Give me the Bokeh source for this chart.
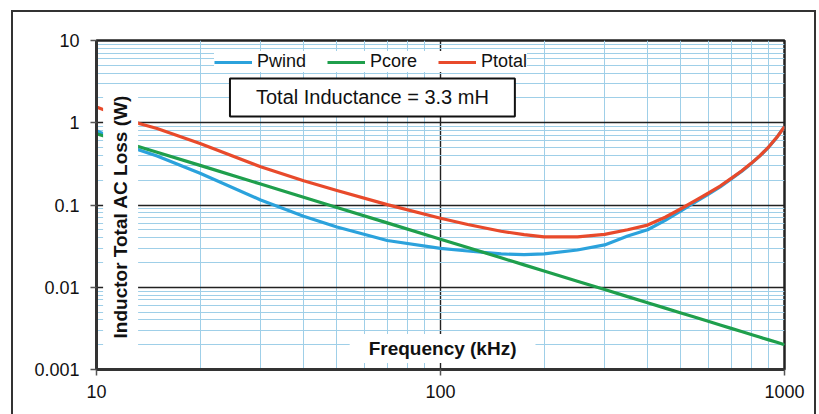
import math
from bokeh.plotting import figure
from bokeh.models import Range1d, FixedTicker, Label, Legend, LegendItem
from bokeh.embed import file_html
from bokeh.resources import INLINE

# ---- data ----
freq_khz = [10, 13.3, 15, 20, 30, 40, 50, 70, 100, 120, 150, 175, 200, 250, 300, 350, 400,
            450, 500, 550, 600, 650, 700, 750, 800, 850, 900, 950, 1000]
p_wind = [0.80, 0.466, 0.394, 0.243, 0.115, 0.073, 0.054, 0.037, 0.0297, 0.0276, 0.0254,
          0.0249, 0.0254, 0.0284, 0.0327, 0.042, 0.050, 0.065, 0.085, 0.108, 0.135, 0.166,
          0.208, 0.256, 0.318, 0.398, 0.507, 0.663, 0.893]
p_core = [0.736, 0.51, 0.438, 0.303, 0.180, 0.124, 0.0933, 0.0606, 0.0384, 0.0304, 0.0228,
          0.0187, 0.0158, 0.0118, 0.00937, 0.00769, 0.00648, 0.00557, 0.00487, 0.00431,
          0.00385, 0.00348, 0.00316, 0.00289, 0.00266, 0.00246, 0.00229, 0.00214, 0.0020]
p_total = [1.55, 0.98, 0.85, 0.56, 0.292, 0.197, 0.150, 0.101, 0.069, 0.058, 0.048, 0.0436,
           0.041, 0.041, 0.044, 0.050, 0.057, 0.071, 0.090, 0.113, 0.139, 0.170, 0.211,
           0.259, 0.321, 0.40, 0.51, 0.665, 0.895]

series_names = ["Pwind", "Pcore", "Ptotal"]
series_colors = ["#2ba2dc", "#1f9f4c", "#e84a2b"]

x_ticks = [10, 100, 1000]
x_tick_labels = ["10", "100", "1000"]
x_minor = [20, 30, 40, 50, 60, 70, 80, 90, 200, 300, 400, 500, 600, 700, 800, 900]
y_ticks = [0.001, 0.01, 0.1, 1, 10]
y_tick_labels = ["0.001", "0.01", "0.1", "1", "10"]
y_minor = [m * d for d in [0.001, 0.01, 0.1, 1] for m in range(2, 10)]

x_title = "Frequency (kHz)"
y_title = "Inductor Total AC Loss (W)"
note = "Total Inductance = 3.3 mH"

FONT = "Liberation Sans"

p = figure(width=819, height=414, x_axis_type="log", y_axis_type="log",
           x_range=Range1d(10, 1000), y_range=Range1d(0.001, 10),
           output_backend="svg", toolbar_location=None,
           min_border_left=96, min_border_right=35, min_border_top=40, min_border_bottom=45,
           background_fill_color="white", border_fill_color="white", border_fill_alpha=0)

# outer picture frame (left, right and top edges) drawn behind the transparent border area
p.styles = {
    "background-color": "white",
    "background-image": "linear-gradient(#333,#333), linear-gradient(#333,#333), linear-gradient(#333,#333)",
    "background-size": "2px 410px, 2px 410px, 805px 2px",
    "background-position": "11px 10px, 814px 10px, 11px 10px",
    "background-repeat": "no-repeat",
}

# axes
xt = FixedTicker(ticks=x_ticks, minor_ticks=x_minor)
yt = FixedTicker(ticks=y_ticks, minor_ticks=y_minor)
p.xaxis.ticker = xt
p.yaxis.ticker = yt
p.xgrid.ticker = xt
p.ygrid.ticker = yt
p.xaxis.major_label_overrides = dict(zip(x_ticks, x_tick_labels))
p.yaxis.major_label_overrides = dict(zip(y_ticks, y_tick_labels))
for ax in (p.xaxis[0], p.yaxis[0]):
    ax.axis_line_color = "#333333"
    ax.axis_line_width = 3
    ax.major_tick_line_color = "#555555"
    ax.major_tick_line_width = 1.5
    ax.major_tick_in = 0
    ax.major_tick_out = 6
    ax.minor_tick_in = 0
    ax.minor_tick_out = 0
    ax.major_label_text_font = FONT
    ax.major_label_text_font_size = "18px"
    ax.major_label_text_color = "#111111"
p.yaxis.major_label_standoff = 11
p.xaxis.major_label_standoff = 9

for g in (p.xgrid[0], p.ygrid[0]):
    g.grid_line_color = "#222222"
    g.grid_line_width = 1.4
    g.minor_grid_line_color = "#9fcfe8"
    g.minor_grid_line_width = 1

p.outline_line_color = "#222222"
p.outline_line_width = 2.5
p.outline_line_alpha = 1

# series
renderers = []
for name, vals, col in zip(series_names, [p_wind, p_core, p_total], series_colors):
    r = p.line(freq_khz, vals, line_color=col, line_width=3.2, line_join="round")
    renderers.append(r)

legend = Legend(items=[LegendItem(label=n, renderers=[r]) for n, r in zip(series_names, renderers)],
                orientation="horizontal", location=(118, 297),
                label_text_font=FONT, label_text_font_size="18px", label_text_color="#111111",
                glyph_width=38, glyph_height=18, label_height=18, label_standoff=5,
                spacing=21, padding=6, margin=0,
                background_fill_color="white", background_fill_alpha=1,
                border_line_color=None)
p.add_layout(legend, "center")

# in-plot labels with white backgrounds
p.add_layout(Label(x=11.75, y=0.072, text=y_title, angle=math.pi / 2,
                   text_align="center", text_baseline="middle",
                   text_font=FONT, text_font_size="19px", text_font_style="bold",
                   text_color="#111111", background_fill_color="white",
                   background_fill_alpha=1, padding=(9, 7)))
p.add_layout(Label(x=101.4, y=0.0018, text=x_title,
                   text_align="center", text_baseline="middle",
                   text_font=FONT, text_font_size="19px", text_font_style="bold",
                   text_color="#111111", background_fill_color="white",
                   background_fill_alpha=1, padding=(19, 4)))
p.add_layout(Label(x=63.4, y=2.03, text=note,
                   text_align="center", text_baseline="middle",
                   text_font=FONT, text_font_size="20px",
                   text_color="#111111", background_fill_color="white",
                   background_fill_alpha=1, border_line_color="#111111",
                   border_line_width=2, padding=(26, 8)))

open("out.html", "w").write(file_html(p, INLINE))
